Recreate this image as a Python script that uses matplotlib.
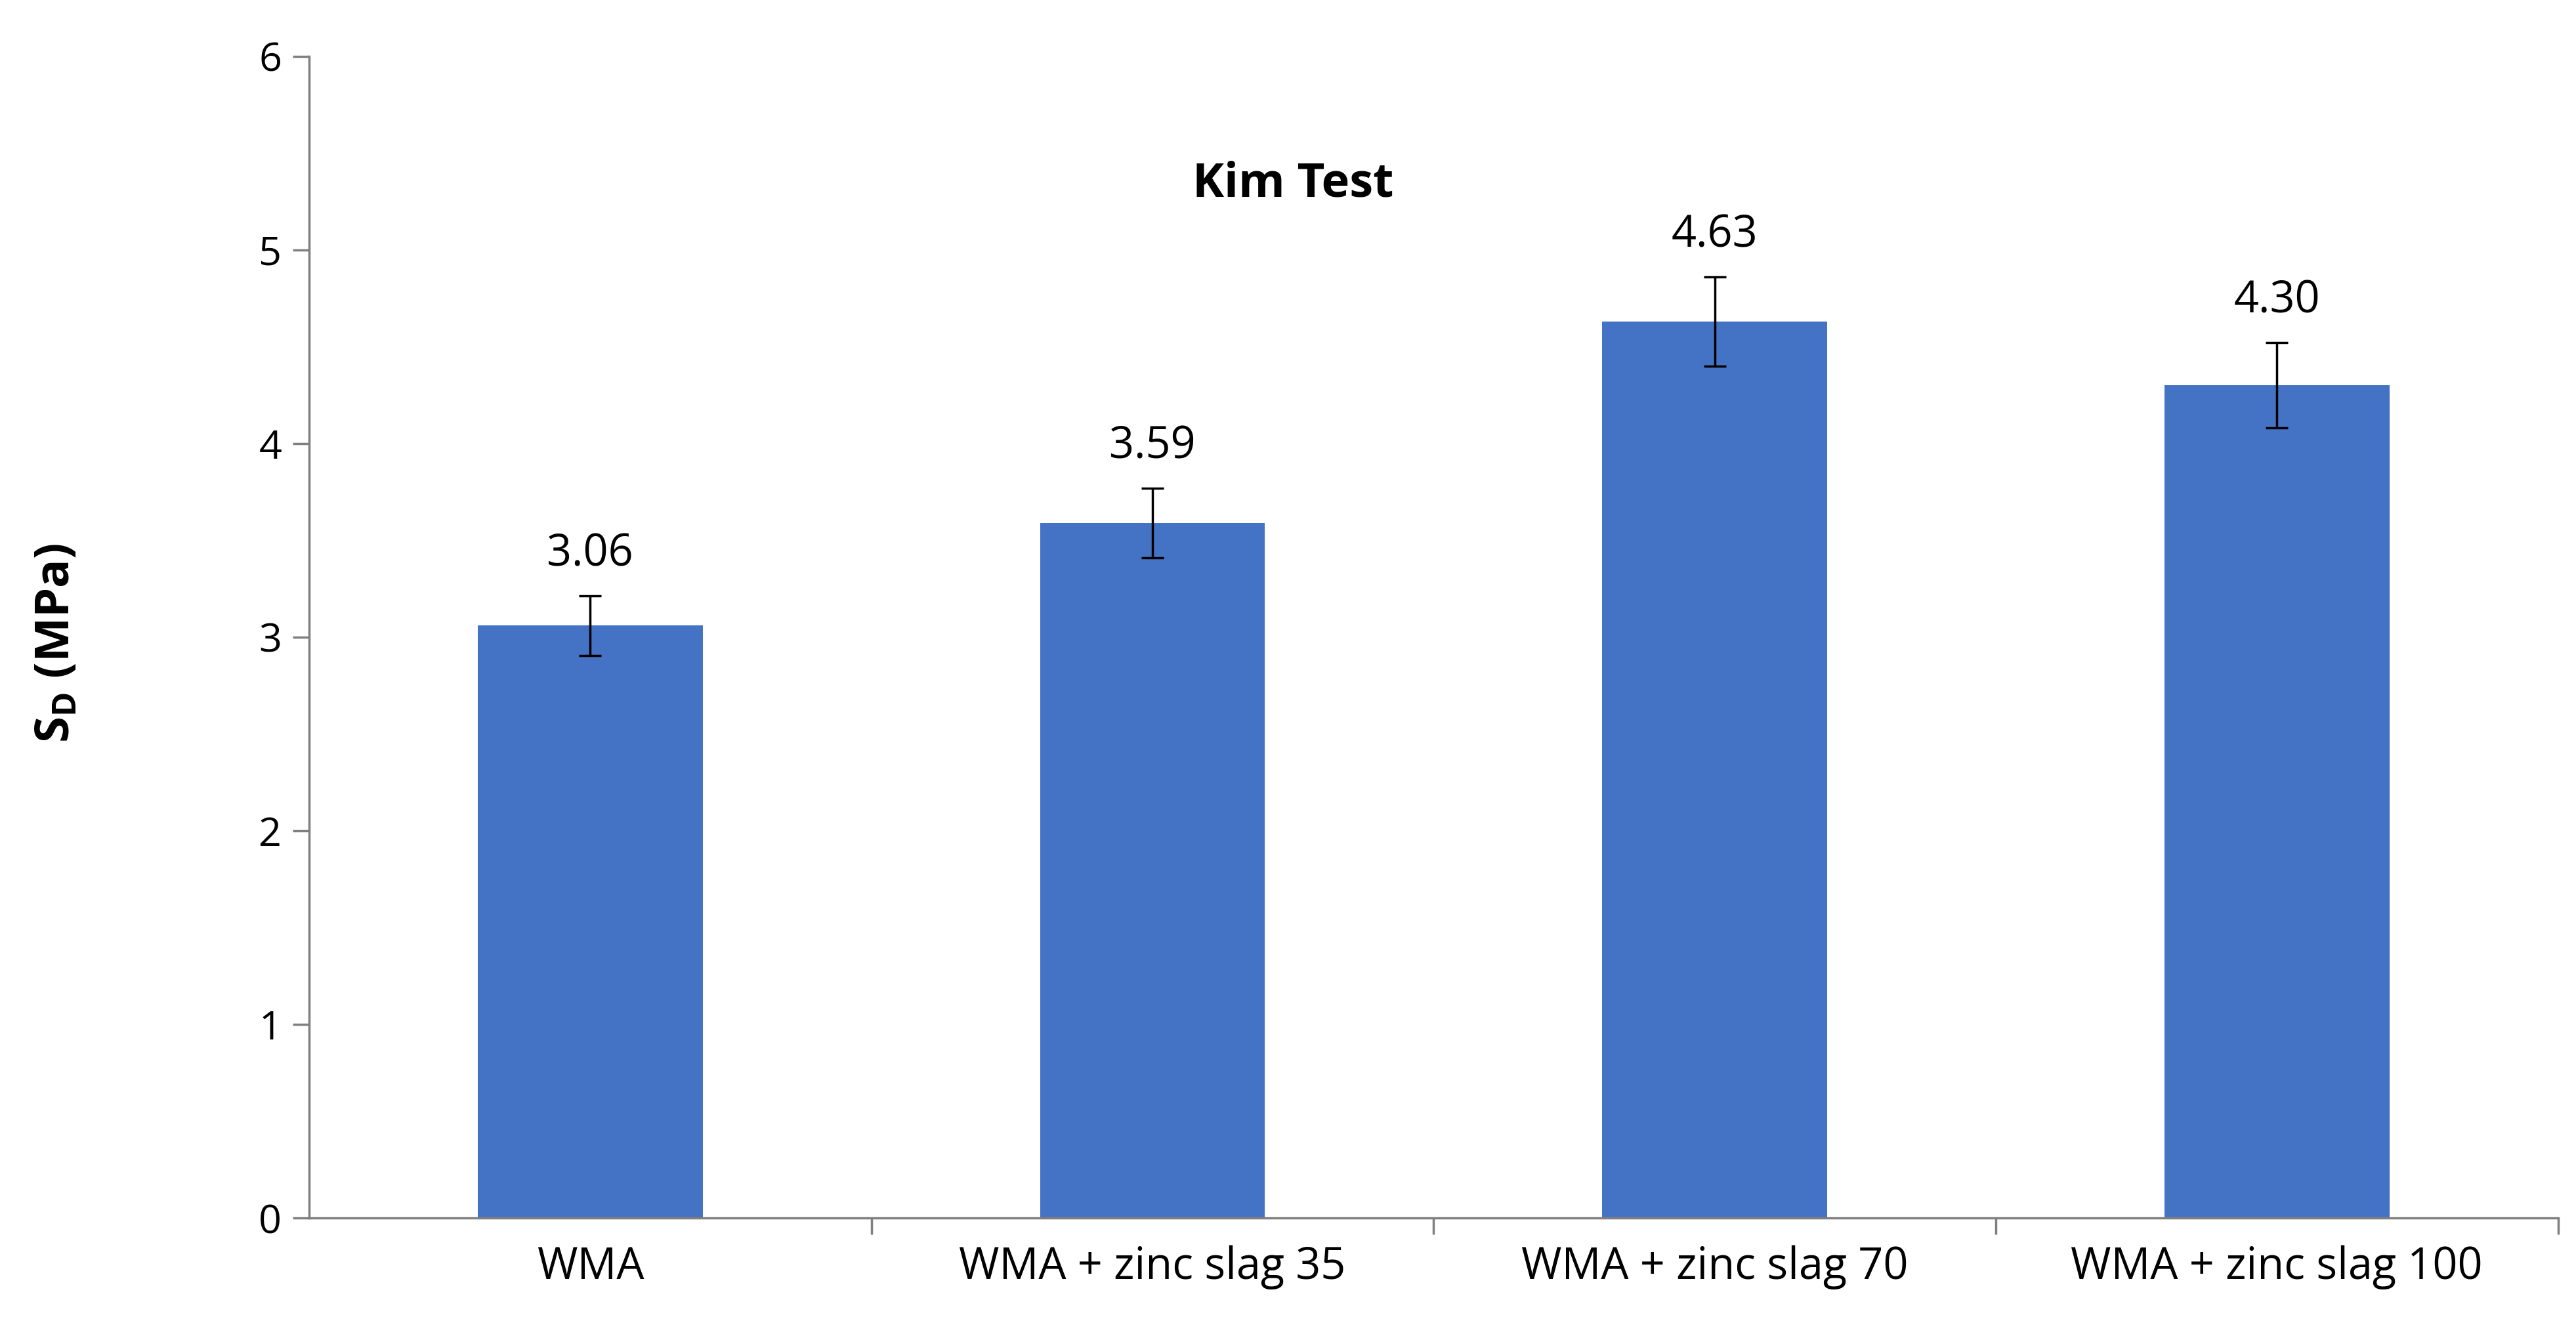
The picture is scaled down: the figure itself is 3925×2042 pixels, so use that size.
import matplotlib
matplotlib.use("Agg")
import matplotlib.pyplot as plt
import numpy as np

categories = ["WMA", "WMA + zinc slag 35", "WMA + zinc slag 70", "WMA + zinc slag 100"]
values = [3.06, 3.59, 4.63, 4.30]
errors = [0.155, 0.18, 0.23, 0.22]
labels = ["3.06", "3.59", "4.63", "4.30"]

plt.rcParams['font.family'] = ['Open Sans', 'DejaVu Sans']
fig = plt.figure(figsize=(39.25, 20.42), dpi=100)
ax = fig.add_axes([0.12, 0.091, 0.873, 0.867])
x = np.arange(len(categories))
ax.bar(x, values, width=0.4, color='#4472C4', zorder=2)
ax.errorbar(x, values, yerr=errors, fmt='none', ecolor='black', elinewidth=2.5,
            capsize=12, capthick=2.5, zorder=3)
for xi, v, e, l in zip(x, values, errors, labels):
    ax.text(xi, v + e + 0.1, l, ha='center', va='bottom', fontsize=48)
ax.set_xlim(-0.5, 3.5)
ax.set_ylim(0, 6)
ax.set_yticks(range(7))
ax.tick_params(axis='y', labelsize=44, length=18, width=2.5, color='#7f7f7f', pad=12)
ax.set_xticks(x)
ax.set_xticklabels(categories, fontsize=48)
ax.tick_params(axis='x', length=0, pad=30)
ax.set_xticks([0.5, 1.5, 2.5, 3.5], minor=True)
ax.tick_params(axis='x', which='minor', length=18, width=2.5, color='#7f7f7f')
for s in ['top', 'right']:
    ax.spines[s].set_visible(False)
for s in ['left', 'bottom']:
    ax.spines[s].set_color('#7f7f7f')
    ax.spines[s].set_linewidth(2.5)
ax.text(0.4375, 0.89, "Kim Test", transform=ax.transAxes, ha='center', va='center',
        fontsize=52, fontweight='bold')
fig.text(0.022, 0.52, r"S$_\mathregular{D}$ (MPa)", rotation=90, ha='center', va='center',
         fontsize=52, fontweight='bold')
fig.savefig("out.png", dpi=100)
